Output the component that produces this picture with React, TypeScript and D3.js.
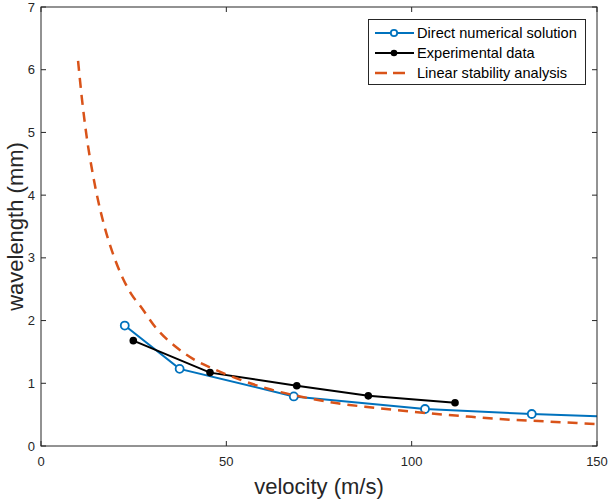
import React, { useEffect, useRef } from "react";
import * as d3 from "d3";

// simulation points (last one lies past the axis and is clipped)
const dnsVelocity = [22.6, 37.4, 68.2, 103.6, 132.4, 161.5];
const dnsWavelength = [1.92, 1.23, 0.79, 0.59, 0.51, 0.45];

const expVelocity = [24.9, 45.6, 69.0, 88.3, 111.7];
const expWavelength = [1.68, 1.17, 0.96, 0.8, 0.69];

const lsaVelocity = [10, 11, 12.3, 14, 16.8, 18.2, 20, 22.2, 24.5, 26.7, 31.2, 36.6, 41, 46.5, 55, 62, 69.9, 80, 90, 103, 115, 123.8, 137, 150];
const lsaWavelength = [6.14, 5.56, 4.94, 4.33, 3.57, 3.28, 2.97, 2.66, 2.41, 2.24, 1.87, 1.57, 1.39, 1.23, 1.03, 0.9, 0.79, 0.68, 0.61, 0.53, 0.47, 0.43, 0.39, 0.35];

const xTicks = [0, 50, 100, 150];
const yTicks = [0, 1, 2, 3, 4, 5, 6, 7];

const legendLabels = ["Direct numerical solution", "Experimental data", "Linear stability analysis"];

const blue = "#0072BD";
const orange = "#D95319";
const axisColor = "#262626";

export default function App() {
  const ref = useRef<SVGSVGElement>(null);

  useEffect(() => {
    const w = 608;
    const h = 500;
    const left = 41;
    const right = 597;
    const top = 7;
    const bottom = 446;

    const svg = d3.select(ref.current);
    svg.selectAll("*").remove();

    const x = d3.scaleLinear().domain([0, 150]).range([left, right]);
    const y = d3.scaleLinear().domain([0, 7]).range([bottom, top]);

    svg
      .append("defs")
      .append("clipPath")
      .attr("id", "plotclip")
      .append("rect")
      .attr("x", left)
      .attr("y", top)
      .attr("width", right - left)
      .attr("height", bottom - top);

    svg.append("rect").attr("width", w).attr("height", h).attr("fill", "#fff");

    const font = "Liberation Sans, Arial, Helvetica, sans-serif";

    // ticks on all four sides, pointing in
    const tl = 5;
    const axes = svg.append("g").attr("stroke", axisColor).attr("stroke-width", 1);
    xTicks.forEach(t => {
      axes.append("line").attr("x1", x(t)).attr("x2", x(t)).attr("y1", bottom).attr("y2", bottom - tl);
      axes.append("line").attr("x1", x(t)).attr("x2", x(t)).attr("y1", top).attr("y2", top + tl);
    });
    yTicks.forEach(t => {
      axes.append("line").attr("x1", left).attr("x2", left + tl).attr("y1", y(t)).attr("y2", y(t));
      axes.append("line").attr("x1", right).attr("x2", right - tl).attr("y1", y(t)).attr("y2", y(t));
    });

    svg
      .append("g")
      .selectAll("text")
      .data(xTicks)
      .enter()
      .append("text")
      .attr("x", d => x(d))
      .attr("y", bottom + 20)
      .attr("text-anchor", "middle")
      .attr("font-family", font)
      .attr("font-size", 13)
      .attr("fill", axisColor)
      .text(d => d);

    svg
      .append("g")
      .selectAll("text")
      .data(yTicks)
      .enter()
      .append("text")
      .attr("x", left - 6)
      .attr("y", d => y(d) + 4.5)
      .attr("text-anchor", "end")
      .attr("font-family", font)
      .attr("font-size", 13)
      .attr("fill", axisColor)
      .text(d => d);

    svg
      .append("text")
      .attr("x", (left + right) / 2)
      .attr("y", 494)
      .attr("text-anchor", "middle")
      .attr("font-family", font)
      .attr("font-size", 22)
      .attr("fill", axisColor)
      .text("velocity (m/s)");

    svg
      .append("text")
      .attr("transform", `translate(23,${(top + bottom) / 2}) rotate(-90)`)
      .attr("text-anchor", "middle")
      .attr("font-family", font)
      .attr("font-size", 22)
      .attr("fill", axisColor)
      .text("wavelength (mm)");

    const plot = svg.append("g").attr("clip-path", "url(#plotclip)");
    const pts = (xs: number[], ys: number[]) => xs.map((v, i) => [x(v), y(ys[i])] as [number, number]);
    const path = d3.line();

    plot
      .append("path")
      .attr("d", path(pts(dnsVelocity, dnsWavelength)))
      .attr("fill", "none")
      .attr("stroke", blue)
      .attr("stroke-width", 2);
    plot
      .selectAll("circle.dns")
      .data(pts(dnsVelocity, dnsWavelength))
      .enter()
      .append("circle")
      .attr("cx", d => d[0])
      .attr("cy", d => d[1])
      .attr("r", 4)
      .attr("fill", "#fff")
      .attr("stroke", blue)
      .attr("stroke-width", 1.8);

    plot
      .append("path")
      .attr("d", path(pts(expVelocity, expWavelength)))
      .attr("fill", "none")
      .attr("stroke", "#000")
      .attr("stroke-width", 2);
    plot
      .selectAll("circle.exp")
      .data(pts(expVelocity, expWavelength))
      .enter()
      .append("circle")
      .attr("cx", d => d[0])
      .attr("cy", d => d[1])
      .attr("r", 3.8)
      .attr("fill", "#000");

    plot
      .append("path")
      .attr("d", d3.line().curve(d3.curveMonotoneX)(pts(lsaVelocity, lsaWavelength)))
      .attr("fill", "none")
      .attr("stroke", orange)
      .attr("stroke-width", 2.5)
      .attr("stroke-dasharray", "10,7");

    // axes box
    svg
      .append("rect")
      .attr("x", left)
      .attr("y", top)
      .attr("width", right - left)
      .attr("height", bottom - top)
      .attr("fill", "none")
      .attr("stroke", axisColor)
      .attr("stroke-width", 1);

    // legend
    const lg = svg.append("g");
    lg.append("rect")
      .attr("x", 368.5)
      .attr("y", 19.5)
      .attr("width", 217)
      .attr("height", 65)
      .attr("fill", "#fff")
      .attr("stroke", axisColor)
      .attr("stroke-width", 1);
    const rows = [33, 53, 73];
    legendLabels.forEach((label, i) => {
      const ry = rows[i];
      const ln = lg
        .append("line")
        .attr("x1", 375)
        .attr("x2", i === 2 ? 405 : 414)
        .attr("y1", ry)
        .attr("y2", ry);
      if (i === 0) {
        ln.attr("stroke", blue).attr("stroke-width", 2);
        lg.append("circle").attr("cx", 394).attr("cy", ry).attr("r", 3.2).attr("fill", "#fff").attr("stroke", blue).attr("stroke-width", 1.8);
      } else if (i === 1) {
        ln.attr("stroke", "#000").attr("stroke-width", 2);
        lg.append("circle").attr("cx", 394).attr("cy", ry).attr("r", 3.3).attr("fill", "#000");
      } else {
        ln.attr("stroke", orange).attr("stroke-width", 2.5).attr("stroke-dasharray", "12,6");
      }
      lg.append("text")
        .attr("x", 417)
        .attr("y", ry + 5)
        .attr("font-family", font)
        .attr("font-size", 14.6)
        .attr("fill", "#000")
        .text(label);
    });
  }, []);

  return <svg ref={ref} width={608} height={500} style={{ display: "block", position: "absolute", left: 0, top: 0 }} />;
}
